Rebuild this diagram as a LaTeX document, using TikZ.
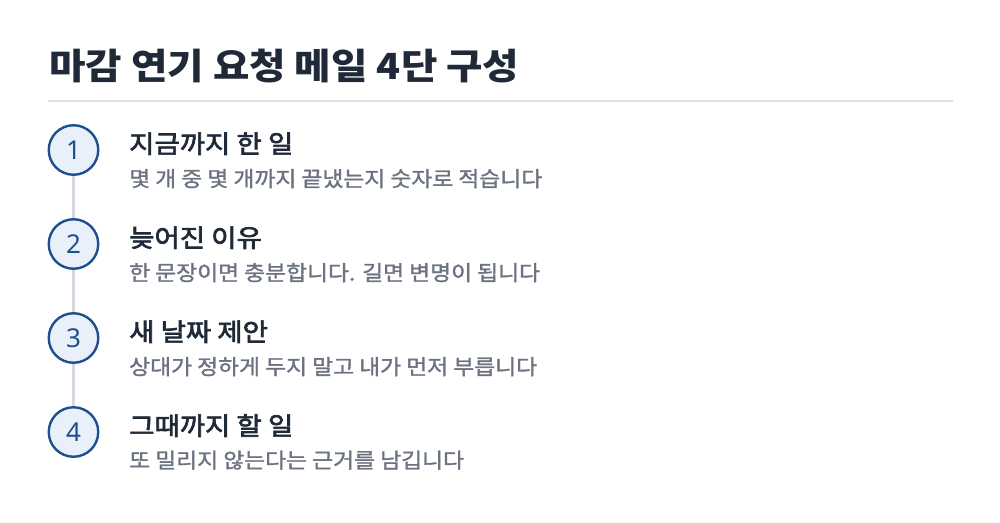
\documentclass[tikz,border=0pt]{standalone}
\usepackage{fontspec}
\newfontfamily\krtitle[FakeStretch=1.1]{Noto Sans CJK KR}
\newfontfamily\krhead[FakeStretch=1.1,FakeBold=2.6]{Noto Sans CJK KR}
\newfontfamily\krsub[FakeStretch=1.085,FakeBold=1.4]{Noto Sans CJK KR}
\newfontfamily\numfont{Noto Sans}
\definecolor{titlec}{HTML}{1F2937}
\definecolor{subc}{HTML}{6B7280}
\definecolor{rulec}{HTML}{DCE0E7}
\definecolor{linec}{HTML}{D3DAE3}
\definecolor{circfill}{HTML}{EAF0FA}
\definecolor{circdraw}{HTML}{1E4F8F}
\tikzset{
  titletext/.style={anchor=base west, inner sep=0pt, font=\krtitle\bfseries\fontsize{36}{40}\selectfont, text=titlec},
  headtext/.style={anchor=base west, inner sep=0pt, font=\krhead\fontsize{25}{28}\selectfont, text=titlec},
  subtext/.style={anchor=base west, inner sep=0pt, font=\krsub\fontsize{21}{24}\selectfont, text=subc},
  stepcirc/.style={circle, minimum size=49.5pt, inner sep=0pt, fill=circfill, draw=circdraw, line width=2.4pt, text=circdraw, font=\numfont\fontsize{26}{28}\selectfont},
  connline/.style={draw=linec, line width=3pt},
}
\begin{document}
\begin{tikzpicture}[x=1pt,y=-1pt]
\useasboundingbox[fill=white] (0,0) rectangle (1000,522);
\node[titletext] (title) at (49,79.5) {마감 연기 요청 메일 4단 구성};
\coordinate (rl) at (48,101);
\coordinate (rr) at (953,101);
\draw[draw=rulec, line width=2pt] (rl) -- (rr);
\coordinate (c1p) at (73.5,150);
\coordinate (c2p) at (73.5,244);
\coordinate (c3p) at (73.5,338);
\coordinate (c4p) at (73.5,432);
\draw[connline] (c1p) -- (c4p);
\node[stepcirc] (c1) at (c1p) {1};
\node[stepcirc] (c2) at (c2p) {2};
\node[stepcirc] (c3) at (c3p) {3};
\node[stepcirc] (c4) at (c4p) {4};
\node[headtext] (h1) at (129,153) {지금까지 한 일};
\node[subtext] (s1) at (129,186.5) {몇 개 중 몇 개까지 끝냈는지 숫자로 적습니다};
\node[headtext] (h2) at (129,247) {늦어진 이유};
\node[subtext] (s2) at (129,280.5) {한 문장이면 충분합니다. 길면 변명이 됩니다};
\node[headtext] (h3) at (129,341) {새 날짜 제안};
\node[subtext] (s3) at (129,374.5) {상대가 정하게 두지 말고 내가 먼저 부릅니다};
\node[headtext] (h4) at (129,435) {그때까지 할 일};
\node[subtext] (s4) at (129,468) {또 밀리지 않는다는 근거를 남깁니다};
\end{tikzpicture}
\end{document}
